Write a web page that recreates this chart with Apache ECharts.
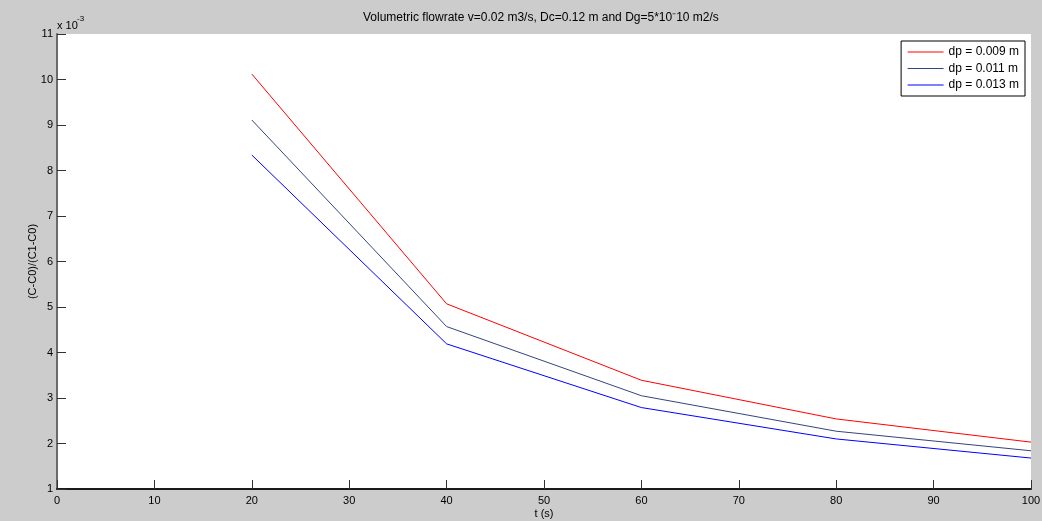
<!DOCTYPE html>
<html>
<head>
<meta charset="utf-8">
<script src="https://cdn.jsdelivr.net/npm/echarts@6/dist/echarts.min.js"></script>
<style>
  html, body { margin: 0; padding: 0; background: #cccccc; overflow: hidden; }
  #chart { width: 1042px; height: 521px; }
</style>
</head>
<body>
<div id="chart"></div>
<script>
// Time points (s)
const times = [20, 40, 60, 80, 100];
// (C-C0)/(C1-C0) in units of 1e-3 for each particle diameter
const dp009 = [10.12, 5.07, 3.39, 2.54, 2.03];
const dp011 = [9.11, 4.57, 3.05, 2.27, 1.84];
const dp013 = [8.34, 4.19, 2.79, 2.10, 1.68];
const seriesNames = ['dp = 0.009 m', 'dp = 0.011 m', 'dp = 0.013 m'];
const xTicks = [0, 10, 20, 30, 40, 50, 60, 70, 80, 90, 100];
const yTicks = [1, 2, 3, 4, 5, 6, 7, 8, 9, 10, 11];

const FONT = '"Liberation Sans", Arial, sans-serif';
const colors = ['#ff0000', '#34457e', '#0000ff'];

function pairs(ys) {
  return times.map((t, i) => [t, ys[i]]);
}

const chart = echarts.init(document.getElementById('chart'));
chart.setOption({
  backgroundColor: '#cccccc',
  animation: false,
  textStyle: { fontFamily: FONT },
  title: {
    text: 'Volumetric flowrate v=0.02 m3/s, Dc=0.12 m and Dg=5*10\u207B10 m2/s',
    left: 363,
    top: 12,
    padding: 0,
    textStyle: { fontSize: 12, fontWeight: 'normal', color: '#000', fontFamily: FONT }
  },
  legend: {
    orient: 'vertical',
    right: 17,
    top: 41,
    padding: [5, 6, 5, 6],
    itemGap: 4.5,
    itemWidth: 36,
    itemHeight: 12,
    backgroundColor: '#ffffff',
    borderColor: '#000000',
    borderWidth: 1,
    borderRadius: 0,
    itemStyle: { opacity: 0 },
    lineStyle: { width: 1 },
    textStyle: { fontSize: 12, color: '#000', fontFamily: FONT },
    data: seriesNames
  },
  grid: {
    left: 57,
    right: 11,
    top: 34,
    bottom: 32,
    outerBoundsMode: 'none',
    containLabel: false,
    show: true,
    backgroundColor: '#ffffff',
    borderWidth: 0
  },
  xAxis: {
    type: 'value',
    min: xTicks[0],
    max: xTicks[xTicks.length - 1],
    interval: 10,
    name: 't (s)',
    nameLocation: 'middle',
    nameGap: 19,
    nameMoveOverlap: false,
    nameTextStyle: { fontSize: 11, color: '#000', fontFamily: FONT },
    axisLine: { show: true, onZero: false, lineStyle: { color: '#1a1a1a', width: 2 } },
    axisTick: { show: true, inside: true, length: 9, lineStyle: { color: '#333', width: 1 } },
    axisLabel: { fontSize: 11, color: '#000', margin: 6, fontFamily: FONT },
    splitLine: { show: false }
  },
  yAxis: {
    type: 'value',
    min: yTicks[0],
    max: yTicks[yTicks.length - 1],
    interval: 1,
    name: '(C-C0)/(C1-C0)',
    nameLocation: 'middle',
    nameGap: 19,
    nameMoveOverlap: false,
    nameTextStyle: { fontSize: 11, color: '#000', fontFamily: FONT },
    axisLine: { show: true, onZero: false, lineStyle: { color: '#6a6a6a', width: 2 } },
    axisTick: { show: true, inside: true, length: 9, lineStyle: { color: '#333', width: 1 } },
    axisLabel: { fontSize: 11, color: '#000', margin: 4, fontFamily: FONT },
    splitLine: { show: false }
  },
  graphic: [
    {
      type: 'text',
      left: 57,
      top: 20,
      style: { text: 'x 10', fontSize: 11, fill: '#000', fontFamily: FONT }
    },
    {
      type: 'text',
      left: 77,
      top: 15,
      style: { text: '-3', fontSize: 8, fill: '#000', fontFamily: FONT }
    }
  ],
  series: [
    { name: seriesNames[0], type: 'line', data: pairs(dp009), symbol: 'none', color: colors[0], lineStyle: { width: 1 } },
    { name: seriesNames[1], type: 'line', data: pairs(dp011), symbol: 'none', color: colors[1], lineStyle: { width: 1 } },
    { name: seriesNames[2], type: 'line', data: pairs(dp013), symbol: 'none', color: colors[2], lineStyle: { width: 1 } }
  ]
});
</script>
</body>
</html>
